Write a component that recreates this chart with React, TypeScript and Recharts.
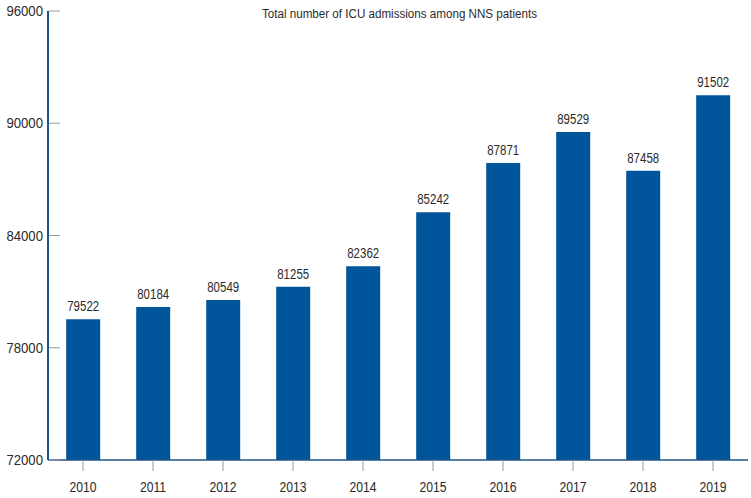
import React from 'react';
import { BarChart, Bar, XAxis, YAxis, LabelList } from 'recharts';

const years = ['2010', '2011', '2012', '2013', '2014', '2015', '2016', '2017', '2018', '2019'];
const admissions = [79522, 80184, 80549, 81255, 82362, 85242, 87871, 89529, 87458, 91502];
const yTicks = [72000, 78000, 84000, 90000, 96000];
const title = 'Total number of ICU admissions among NNS patients';

const data = years.map((year, i) => ({ year, admissions: admissions[i] }));

const FONT = '"Liberation Sans", Arial, sans-serif';
const AXIS_BLUE = '#1f5485';
const BAR_BLUE = '#00559b';
const TEXT = '#2b2b2b';

// narrow text: regular font squeezed horizontally
const NarrowText = ({ x, y, scale, anchor, children }: any) => (
  <text
    transform={`translate(${x},${y}) scale(${scale},1)`}
    textAnchor={anchor}
    fontSize={14}
    fill={TEXT}
    fontFamily={FONT}
  >
    {children}
  </text>
);

const YTick = (props: any) => {
  const { x, y, payload } = props;
  return (
    <g>
      <line x1={x + 6} y1={y} x2={x + 17} y2={y} stroke="#999" strokeWidth={1} />
      <NarrowText x={x} y={y + 5} scale={0.94} anchor="end">
        {payload.value}
      </NarrowText>
    </g>
  );
};

const XTick = (props: any) => {
  const { x, y, payload } = props;
  return (
    <NarrowText x={x} y={y + 10} scale={0.87} anchor="middle">
      {payload.value}
    </NarrowText>
  );
};

const BarValue = (props: any) => {
  const { x, y, width, value } = props;
  return (
    <NarrowText x={x + width / 2} y={y - 8} scale={0.82} anchor="middle">
      {value}
    </NarrowText>
  );
};

export default function App() {
  return (
    <div style={{ position: 'absolute', left: 0, top: 0, width: 751, height: 498, background: '#fff' }}>
      <BarChart
        width={751}
        height={498}
        data={data}
        margin={{ top: 11, right: 3, left: 0, bottom: 8 }}
        barCategoryGap="26%"
      >
        <XAxis
          dataKey="year"
          height={30}
          tickSize={11}
          tickMargin={11}
          axisLine={{ stroke: AXIS_BLUE, strokeWidth: 1.5 }}
          tickLine={{ stroke: '#999' }}
          tick={<XTick />}
        />
        <YAxis
          width={48}
          domain={[72000, 96000]}
          ticks={yTicks}
          allowDataOverflow
          tickSize={0}
          tickMargin={5}
          axisLine={{ stroke: AXIS_BLUE, strokeWidth: 2 }}
          tickLine={false}
          tick={<YTick />}
        />
        <Bar dataKey="admissions" fill={BAR_BLUE} isAnimationActive={false}>
          <LabelList dataKey="admissions" content={<BarValue />} />
        </Bar>
      </BarChart>
      <svg width={751} height={30} style={{ position: 'absolute', left: 0, top: 0 }}>
        <text
          x={262}
          y={18}
          textLength={275}
          lengthAdjust="spacingAndGlyphs"
          fontSize={12}
          fill={TEXT}
          fontFamily={FONT}
        >
          {title}
        </text>
      </svg>
    </div>
  );
}
